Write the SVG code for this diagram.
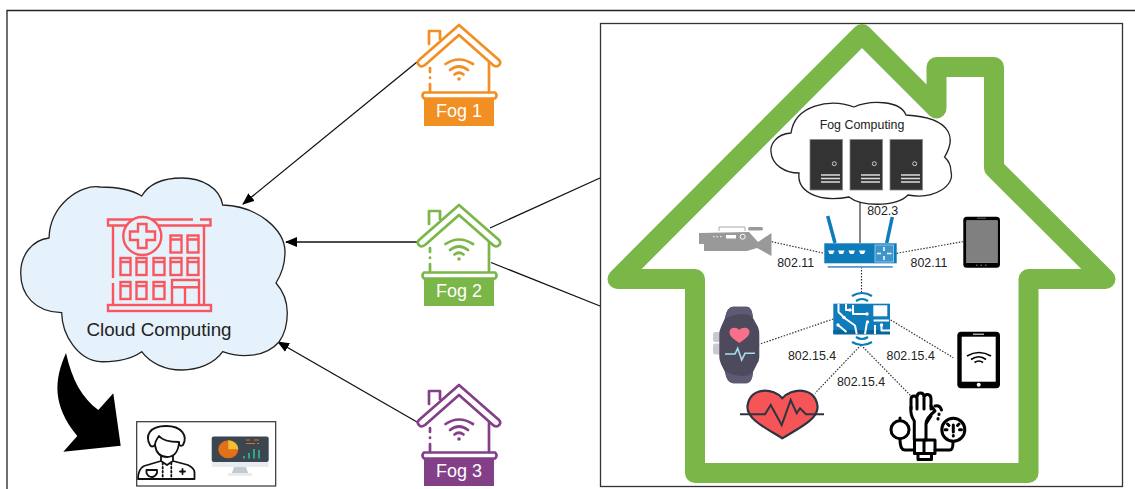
<svg xmlns="http://www.w3.org/2000/svg" width="1135" height="489" viewBox="0 0 1135 489">
<style>
text{font-family:"Liberation Sans",Arial,sans-serif;fill:#222}
.lbl{font-size:12.4px;text-anchor:middle}
.fog{font-size:18px;text-anchor:middle;fill:#fff}
.dot{fill:none;stroke:#333;stroke-width:1.2;stroke-dasharray:1.5 1.5}
.line{fill:none;stroke:#111;stroke-width:1.3}
.srv{fill:#333;stroke:#888;stroke-width:.8}
.srvl{stroke:#ddd;stroke-width:1.3;fill:none}
.blue{fill:#0E7BBB}
.arc{fill:none;stroke:#0E7BBB;stroke-width:2.2}
.tr{fill:none;stroke:#fff;stroke-width:2;stroke-linejoin:round}
.hand{fill:none;stroke:#000;stroke-width:3;stroke-linejoin:round;stroke-linecap:round}
.hos{fill:none;stroke:#F8575F;stroke-width:2.4}
</style>
<defs>
<marker id="arr" markerWidth="12" markerHeight="10" refX="11" refY="5" orient="auto" markerUnits="userSpaceOnUse"><path d="M0 0L12 5L0 10Z" fill="#000"/></marker>
<symbol id="fogHouse" overflow="visible">
<g fill="none" stroke="currentColor" stroke-width="2.7" stroke-linecap="round" stroke-linejoin="round">
<path d="M429 44V31H440V39"/>
<path d="M459 25L499 60Q502 63 498 66Q495 67 493 65L459 35L425 65Q422 67 420 66Q416 63 419 60Z"/>
<path d="M430 68V72M430 77.500V78M430 84V92M489 62V92"/>
<path d="M424 92.500H495Q498 95.500 495 98.500H424Q421 95.500 424 92.500Z"/>
<path d="M445.500 64Q459 55 473 64M450 70Q459 63 468 70M454.500 74.500Q459 71 463.500 74.500"/>
</g>
<circle cx="459" cy="79" r="1.8" fill="currentColor"/>
<rect x="424" y="99" width="70" height="27" fill="currentColor"/>
</symbol>
</defs>
<rect width="1135" height="489" fill="#fff"/>
<path d="M7 489V10.500H1135" fill="none" stroke="#222" stroke-width="1.3"/>
<g id="connectors">
<path class="line" d="M417 62L243 204" marker-end="url(#arr)"/>
<path class="line" d="M417 242H286" marker-end="url(#arr)"/>
<path class="line" d="M417 422L278 342" marker-end="url(#arr)"/>
<path class="line" d="M490 228L600 178"/>
<path class="line" d="M491 262.500L600 306"/>
<path d="M66 353C54 380 52 405 77.300 436L63.300 451.700L120.700 445.700L113.300 393.300L98.300 410C82 398 72 380 66 353Z" fill="#000"/>
</g>
<g id="cloud">
<path d="M49 238C50 205 80 184 100 187C118 187 132 190 141.700 196C150 182 165 178 182 178C202 178 220 188 222.700 205C258 206 285 230 285 252C285 263 281 275 276 283C284 292 287.300 303 287.300 313C287.300 325 284 335 279 342C265 358 240 358 222.700 351.700C214 364 198 370 181.700 370C165 370 150 363 141.700 351.700C130 360 115 362 100 361.700C78 360 62 335 61.700 312.700C35 312 20.700 295 20.700 273C20.700 255 32 240 49 238Z" fill="#E5F2FB" stroke="#222" stroke-width="1.3"/>
<path class="hos" d="M193 219.500H108V225.500H210.500V219.500H200M113 226V278M113 283V304M204 226V304"/>
<circle class="hos" cx="142.300" cy="236" r="19" style="fill:#E5F2FB"/>
<path class="hos" d="M138 224H146.500V231.500H155V240H146.500V248H138V240H130V231.500H138Z"/>
<g class="hos">
<rect x="170.500" y="235.500" width="11" height="17"/><rect x="187.500" y="235.500" width="11" height="17"/>
<rect x="120.500" y="258" width="10" height="17"/><rect x="136.500" y="258" width="10" height="17"/><rect x="153.500" y="258" width="11" height="17"/><rect x="170.500" y="258" width="11" height="17"/><rect x="187.500" y="258" width="11" height="17"/>
<rect x="120.500" y="282" width="10" height="17"/><rect x="136.500" y="282" width="10" height="17"/><rect x="153.500" y="282" width="11" height="17"/>
<path d="M172 304V280H199V304M172 287.300H199M185 287.300V304"/>
<path d="M171 239.500H181M188 239.500H198M120 262H130M137 262H147M154 262H164M171 262H181M188 262H198M120 286H130M137 286H147M154 286H164"/>
<rect x="108" y="305" width="103" height="6"/>
</g>
<text x="159" y="336" font-size="18.800" text-anchor="middle">Cloud Computing</text>
</g>
<g id="doctor">
<rect x="136.700" y="421.700" width="139" height="64.300" fill="#fff" stroke="#333" stroke-width="1.2"/>
<g fill="none" stroke="#111" stroke-width="1.8" stroke-linejoin="round" stroke-linecap="round">
<path d="M150 445C145 436 149 426 166 426C182 426 188 436 183 445C180 447 179 445 179 442C170 442 162 440 159 436C156 440 155 443 155 445C153 447 151 447 150 445Z"/>
<path d="M155 445C156 452 160 457 167 457C174 457 178 452 179 443"/>
<path d="M161 456V461L144 466Q138 469 138 479H194.500V472Q194 468 188 465L173 461V456M161 461L167 465L173 461"/>
<path d="M146.500 470H157V473Q155 477 152 477Q148 477 146.500 473Z"/>
<path d="M162.700 463V478M171.300 463V478" stroke-dasharray="1.500 2.500"/>
<path d="M180 471.500H185M182.500 469V474"/>
</g>
<rect x="211.700" y="436.500" width="57" height="25.500" rx="2" fill="#3B4650"/><rect x="211.700" y="462" width="57" height="5" fill="#E6ECEF"/>
<path d="M234 467H246L248 473H232Z" fill="#C3C9CD"/><rect x="228" y="473" width="24" height="3" fill="#E6ECEF"/>
<ellipse cx="228.300" cy="449.300" rx="10" ry="9" fill="#E0701A"/>
<path d="M228.300 449.300V440.300A10 9 0 0 1 238.300 449.300Z" fill="#F2BF33"/>
<path d="M246 440H250M254 440H259M246 443.500H255M257 443.500H259" stroke="#E0701A" fill="none"/>
<path d="M244 458.500V456M249 458.500V453M254 458.500V449M259 458.500V450" stroke="#2FB387" stroke-width="1.800" fill="none"/>
</g>
<g id="fog1" style="color:#F18F22"><use href="#fogHouse"/><text class="fog" x="459" y="117">Fog 1</text></g>
<g id="fog2" style="color:#7AB648"><use href="#fogHouse" y="180"/><text class="fog" x="459" y="297">Fog 2</text></g>
<g id="fog3" style="color:#833F87"><use href="#fogHouse" y="360"/><text class="fog" x="459" y="477">Fog 3</text></g>
<g id="home">
<rect x="600.500" y="23.500" width="522" height="463" fill="#fff" stroke="#333" stroke-width="1.3"/>
<path d="M617.500 279L862 34L936.500 108.500V67H994V168L1105.500 279H1028.500V473H695V279Z" fill="none" stroke="#7AB648" stroke-width="20" stroke-linejoin="round"/>
</g>
<g id="home-connectors">
<path d="M860 194V243" fill="none" stroke="#444" stroke-width="1.3"/>
<path class="dot" d="M771.700 241.700L824.300 253.300M896.700 253.300L962.700 241.700M861.500 267V293M833.300 319L759.300 344.300M890.700 320L953.300 357.700M861 345L815 393.300M861 345L911.700 396.700"/>
</g>
<g id="fog-computing">
<path d="M791 133C775 134 770 146 771 152C772 165 785 173 799 173C797 190 815 203 849 197C860 206 895 208 908 195C935 200 955 185 951 172C951 165 948 160 944.500 157C955 140 955 118 906 115C900 100 870 100 854 107C830 98 795 105 791 133Z" fill="#fff" stroke="#222" stroke-width="1.3"/>
<text class="lbl" x="862" y="129">Fog Computing</text>
<rect class="srv" x="810" y="139.500" width="32.500" height="50.500"/><rect class="srv" x="850" y="139.500" width="32.500" height="50.500"/><rect class="srv" x="890" y="139.500" width="32.500" height="50.500"/>
<g fill="none" stroke="#ccc" stroke-width="1"><circle cx="834.300" cy="163.700" r="2"/><circle cx="874.300" cy="163.700" r="2"/><circle cx="914.700" cy="163.700" r="2"/></g>
<path class="srvl" d="M821 175H840M821 178.500H840M821 182H840M861 175H880M861 178.500H880M861 182H880M901 175H920M901 178.500H920M901 182H920"/>
</g>
<text class="lbl" x="882.700" y="215">802.3</text>
<g id="router">
<path d="M827.700 216L835 243M892.300 217L886.700 243" stroke="#0E7BBB" stroke-width="3.500" fill="none"/>
<rect class="blue" x="824.300" y="243.300" width="72.400" height="20"/>
<rect x="827.700" y="266" width="65" height="1.800" fill="#5A9BC8"/>
<rect x="875" y="245" width="18.500" height="17" fill="#3E95CC" stroke="#8CC6E6" stroke-width="1"/>
<path d="M877 253.500H881M887 253.500H891.500M884 247V251M884 256V260" stroke="#fff" stroke-width="1.500" fill="none"/>
<path fill="#fff" d="M828 250.500H834.500L833 254H829.500ZM838 250.500H844.500L843 254H839.500ZM848.500 250.500H855L853.500 254H850ZM859 250.500H865.500L864 254H860.500Z"/>
</g>
<text class="lbl" x="795.700" y="266.700">802.11</text>
<text class="lbl" x="929" y="266.700">802.11</text>
<g id="camera" fill="#999">
<path d="M699 233L749 232L758 242L771.500 233V256L757 248L747 251H704V244H699Z"/>
<path d="M719 231V227H745V231" fill="none" stroke="#aaa" stroke-width="1"/>
<rect x="748" y="227" width="15" height="3.500" rx="1.700"/>
<rect x="726" y="235" width="10" height="3.500" fill="#fff"/><circle cx="742.700" cy="236.700" r="2.500" fill="none" stroke="#fff"/>
<path d="M713 236.700H723" stroke="#fff" stroke-dasharray="1.500 2"/>
</g>
<g id="tablet">
<rect x="963.300" y="216.700" width="36.700" height="51" rx="3.500" fill="#000"/>
<rect x="966.700" y="220.700" width="30.600" height="42" fill="#808080" stroke="#aaa" stroke-width=".6"/>
<path d="M977 218.200H986" stroke="#666" fill="none"/>
<path d="M976 265.200H987" stroke="#888" stroke-dasharray="1.500 3" fill="none"/>
</g>
<g id="chip">
<path class="arc" d="M852 296Q862 290 872 296M856 301Q862 297 868 301M856 337Q862 341 868 337M852 342Q862 348 872 342"/>
<rect class="blue" x="833.300" y="303.700" width="56.700" height="30.600"/>
<rect x="833.300" y="330" width="56.700" height="4.300" fill="#0A649C"/>
<rect x="873.300" y="305.300" width="14" height="11" fill="#fff"/>
<path class="tr" d="M838.500 304V312L843.500 317M846 304V310H849M853 305V314H866M843 317L855 325.500L856.700 334M838 325L846.500 332M867 322L865 334M873.500 320.500H889M875 325V334M881.500 325V330.500H890"/>
<g fill="#fff"><circle cx="844" cy="317.500" r="1.700"/><circle cx="850" cy="310" r="1.700"/><circle cx="867" cy="314" r="1.700"/><circle cx="867.500" cy="322" r="1.700"/><circle cx="881.500" cy="325" r="1.700"/><circle cx="838" cy="325" r="1.700"/></g>
</g>
<g id="watch">
<rect x="713" y="332" width="8" height="10" rx="2.500" fill="#C9C7CF"/><rect x="713" y="343.500" width="8" height="11" rx="2.500" fill="#C9C7CF"/>
<path d="M733 306.700H747Q752 307 753 318L758 327Q759.300 330 759.300 335V357Q759.300 361 757 364L753 372Q752 383 747 383.300H733Q727 383 725 372L721 364Q719.300 360 719.300 357V335Q719.300 330 721 327L725 318Q727 307 733 306.700Z" fill="#4E4A5E"/>
<path d="M733 306.700H747Q752 307 753 318Q746 310 725 318Q727 307 733 306.700ZM725 372Q746 380 753 372Q752 383 747 383.300H733Q727 383 725 372Z" fill="#5F5973"/>
<path d="M739.300 343C732 338 729.500 335.500 729.500 332C729.500 327 736.500 326.500 739.300 330C742 326.500 749.500 327 749.500 332C749.500 335.500 746.500 338 739.300 343Z" fill="#F8718B"/>
<path d="M725 354H735L737.700 348.300L741.700 360L745 353.300H755" fill="none" stroke="#A8DDF0" stroke-width="1.600"/>
</g>
<text class="lbl" x="812" y="360">802.15.4</text>
<text class="lbl" x="861" y="385.700">802.15.4</text>
<text class="lbl" x="910.700" y="360">802.15.4</text>
<g id="tablet-2">
<rect x="957.300" y="331.700" width="42.700" height="56.600" rx="4" fill="#000"/>
<rect x="961.700" y="336.700" width="34" height="45" fill="#fff"/>
<circle cx="978.700" cy="384.800" r="2" fill="#fff"/>
<path d="M973 334.200H984" stroke="#fff" fill="none"/>
<path d="M967 356Q979 349 991 356M971 359.500Q979 354 986 359.500M974.500 362.500Q979 359.500 983 362.500" fill="none" stroke="#000" stroke-width="1.700"/>
</g>
<g id="heart">
<path d="M782.300 398.300C774 388 750 386 747.500 406C746 420 770 430 782.300 438.300C795 430 819 420 817.500 406C815 386 791 388 782.300 398.300Z" fill="#F65557" stroke="#2E3440" stroke-width="2.200" stroke-linejoin="round"/>
<path d="M740 414.300H765L770.700 405L781.700 425L790.700 400L796.700 413.300L800 408.300L806 414.300H824" fill="none" stroke="#2E3440" stroke-width="2"/>
</g>
<g id="blood-pressure" class="hand">
<path d="M911 409V399Q911 396 914 396Q917 396 917 399V409M917 397Q917 393 920.500 393Q924 393 924 397V409M924 397Q925 394 928 394.500Q931 395 931 399V409"/>
<path d="M911 407Q910 415 914.300 421V440M926 440V424Q926 418 935 411L931 406"/>
<path d="M935 406Q940 405 941.500 410M939 414V414.500M931 416L926.500 423M938 418.500V419"/>
<circle cx="900" cy="429.700" r="9"/>
<path d="M900 420V418"/>
<circle cx="953.300" cy="429.700" r="11.500"/>
<path d="M953.300 425V432M953.300 435.500V436M945 429.700H947M959.500 429.700H961.500M947.500 424L949 425.500M959 424L957.500 425.500"/>
<path d="M900 439Q900 450 905 450H914M935 450H950Q953 450 953 442"/>
<rect x="914.500" y="440" width="20.500" height="13.500"/>
<path d="M924 440V453.500"/>
<rect x="918" y="453.500" width="13.500" height="6"/>
</g>
</svg>
